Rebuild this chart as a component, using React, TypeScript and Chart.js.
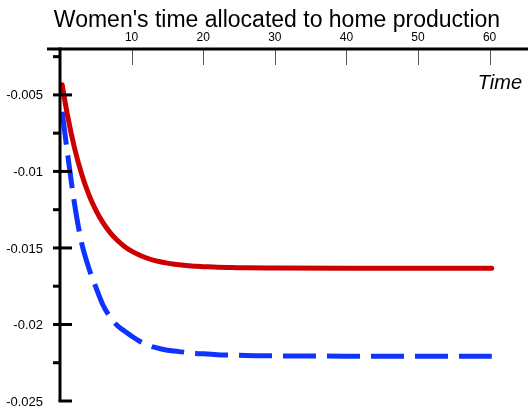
import { useEffect, useRef } from 'react';
import { Chart, registerables } from 'chart.js';

Chart.register(...registerables);

const TITLE = "Women's time allocated to home production";
const X_LABEL = 'Time';

const times = [0.3, 1, 2, 3, 4, 5, 6, 7, 8, 9, 10, 11, 12, 13, 14, 15, 16, 17, 18, 19, 20, 22, 24, 26, 30, 40, 50, 60.3];
const seriesSolid = [
  -0.00433, -0.00622, -0.00842, -0.01013, -0.01148, -0.01253, -0.01335, -0.014, -0.0145, -0.0149, -0.01521,
  -0.01545, -0.01564, -0.01579, -0.0159, -0.01599, -0.01606, -0.01612, -0.01616, -0.0162, -0.01622,
  -0.01626, -0.01628, -0.0163, -0.01631, -0.01632, -0.01632, -0.01632,
];
const seriesDashed = [
  -0.0061, -0.00865, -0.01203, -0.01463, -0.01628, -0.01756, -0.01873, -0.01951, -0.02007, -0.02043, -0.02076,
  -0.02106, -0.02129, -0.02147, -0.02159, -0.02168, -0.02174, -0.02179, -0.02184, -0.02189, -0.02192,
  -0.02197, -0.022, -0.02203, -0.02205, -0.02207, -0.02208, -0.02208,
];

const xTicks = [10, 20, 30, 40, 50, 60];
const xTickLabels = ['10', '20', '30', '40', '50', '60'];
const yMajorTicks = [-0.005, -0.01, -0.015, -0.02, -0.025];
const yMajorLabels = ['-0.005', '-0.01', '-0.015', '-0.02', '-0.025'];
const yMinorTicks = [-0.0025, -0.0075, -0.0125, -0.0175, -0.0225];

const X_MIN = 0;
const X_MAX = 65.36;
const Y_MIN = -0.025;
const Y_MAX = -0.002;

const FONT = '"Liberation Sans", Arial, sans-serif';

const axesPlugin = {
  id: 'customAxes',
  afterDatasetsDraw(chart: any) {
    const ctx = chart.ctx as CanvasRenderingContext2D;
    const xs = chart.scales.x;
    const ys = chart.scales.y;
    const area = chart.chartArea;
    const ax = xs.getPixelForValue(0);
    const ay = area.top;
    const bottom = ys.getPixelForValue(Y_MIN);
    ctx.save();

    ctx.strokeStyle = '#555';
    ctx.lineWidth = 1;
    xTicks.forEach((v) => {
      const px = Math.round(xs.getPixelForValue(v)) + 0.5;
      ctx.beginPath();
      ctx.moveTo(px, ay);
      ctx.lineTo(px, ay + 16);
      ctx.stroke();
    });
    ctx.fillStyle = '#000';
    ctx.font = `12px ${FONT}`;
    ctx.textAlign = 'center';
    ctx.textBaseline = 'alphabetic';
    xTicks.forEach((v, i) => {
      ctx.fillText(xTickLabels[i], xs.getPixelForValue(v), 41);
    });

    ctx.strokeStyle = '#000';
    ctx.lineWidth = 3;
    ctx.beginPath();
    ctx.moveTo(47, ay);
    ctx.lineTo(area.right, ay);
    ctx.stroke();
    ctx.beginPath();
    ctx.moveTo(ax, ay - 1.5);
    ctx.lineTo(ax, bottom);
    ctx.stroke();

    yMajorTicks.forEach((v) => {
      const py = ys.getPixelForValue(v);
      ctx.beginPath();
      ctx.moveTo(v === Y_MIN ? ax - 1.5 : ax - 7, py);
      ctx.lineTo(ax + 12, py);
      ctx.stroke();
    });
    yMinorTicks.forEach((v) => {
      const py = ys.getPixelForValue(v);
      ctx.beginPath();
      ctx.moveTo(ax - 7, py);
      ctx.lineTo(ax, py);
      ctx.stroke();
    });
    ctx.font = `13px ${FONT}`;
    ctx.textAlign = 'right';
    ctx.textBaseline = 'middle';
    yMajorTicks.forEach((v, i) => {
      ctx.fillText(yMajorLabels[i], 43, ys.getPixelForValue(v) + 1);
    });

    ctx.font = `23px ${FONT}`;
    ctx.textAlign = 'center';
    ctx.textBaseline = 'alphabetic';
    ctx.fillText(TITLE, 277, 27);
    ctx.font = `italic 20px ${FONT}`;
    ctx.textAlign = 'right';
    ctx.fillText(X_LABEL, 522, 89);
    ctx.restore();
  },
};

export default function App() {
  const ref = useRef<HTMLCanvasElement | null>(null);
  useEffect(() => {
    if (!ref.current) return;
    const chart = new Chart(ref.current, {
      type: 'line',
      data: {
        datasets: [
          {
            data: times.map((t, i) => ({ x: t, y: seriesSolid[i] })),
            borderColor: '#CC0000',
            borderWidth: 5,
            borderCapStyle: 'round',
            borderJoinStyle: 'round',
            pointRadius: 0,
            cubicInterpolationMode: 'monotone',
            fill: false,
          },
          {
            data: times.map((t, i) => ({ x: t, y: seriesDashed[i] })),
            borderColor: '#0F33FF',
            borderWidth: 5,
            borderDash: [33, 11],
            borderCapStyle: 'butt',
            pointRadius: 0,
            cubicInterpolationMode: 'monotone',
            fill: false,
          },
        ],
      },
      options: {
        responsive: false,
        animation: false,
        layout: { padding: { left: 60, top: 49, right: 0, bottom: 12 } },
        plugins: { legend: { display: false }, tooltip: { enabled: false }, title: { display: false } },
        scales: {
          x: { type: 'linear', min: X_MIN, max: X_MAX, display: false },
          y: { type: 'linear', min: Y_MIN, max: Y_MAX, display: false },
        },
      },
      plugins: [axesPlugin],
    } as any);
    return () => chart.destroy();
  }, []);
  return (
    <div style={{ position: 'fixed', left: 0, top: 0, width: 528, height: 413, background: '#fff' }}>
      <canvas ref={ref} width={528} height={413} style={{ display: 'block' }} />
    </div>
  );
}
